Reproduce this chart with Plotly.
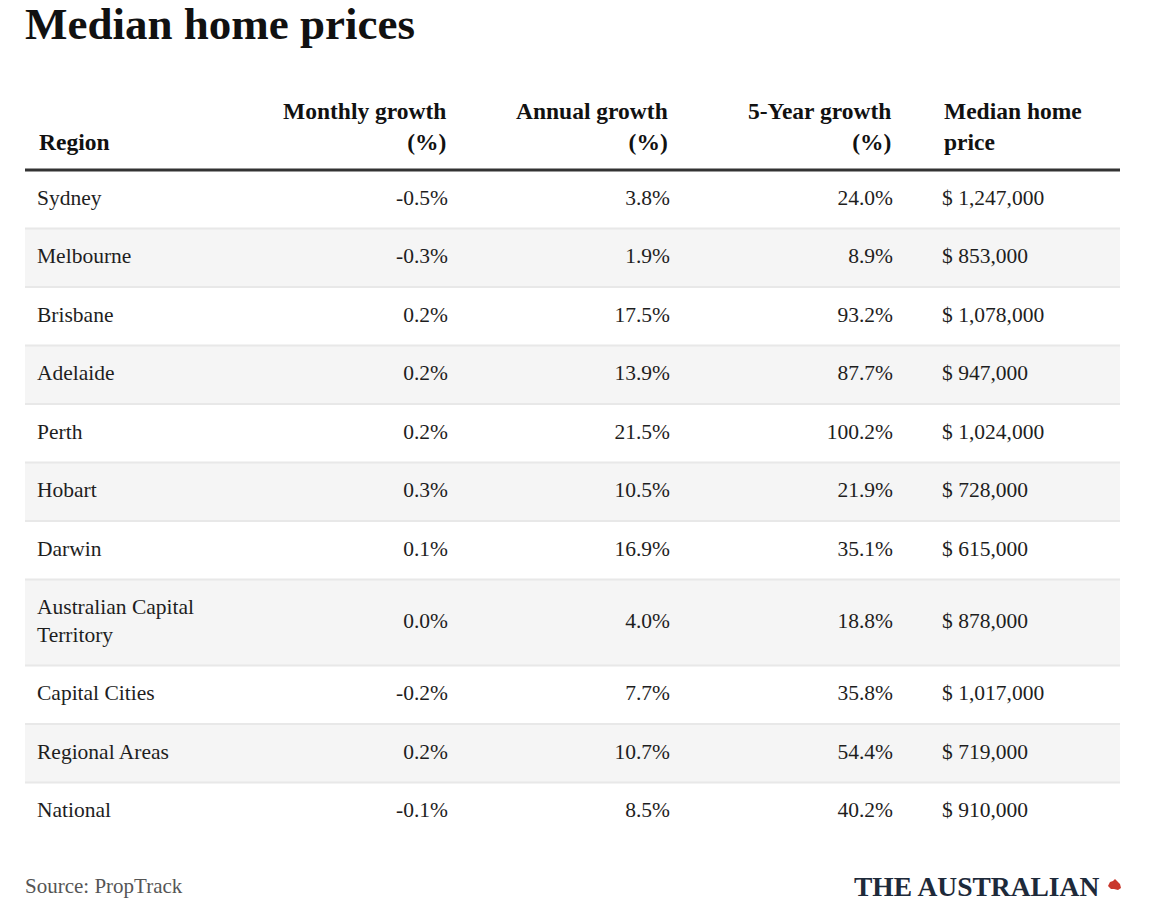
import textwrap
import plotly.graph_objects as go

# ---- data ----
regions = ["Sydney", "Melbourne", "Brisbane", "Adelaide", "Perth", "Hobart",
           "Darwin", "Australian Capital Territory", "Capital Cities",
           "Regional Areas", "National"]
monthly_growth = [-0.5, -0.3, 0.2, 0.2, 0.2, 0.3, 0.1, 0.0, -0.2, 0.2, -0.1]
annual_growth = [3.8, 1.9, 17.5, 13.9, 21.5, 10.5, 16.9, 4.0, 7.7, 10.7, 8.5]
five_year_growth = [24.0, 8.9, 93.2, 87.7, 100.2, 21.9, 35.1, 18.8, 35.8, 54.4, 40.2]
median_price = [1247000, 853000, 1078000, 947000, 1024000, 728000, 615000,
                878000, 1017000, 719000, 910000]
headers = ["Region", "Monthly growth<br>(%)", "Annual growth<br>(%)",
           "5-Year growth<br>(%)", "Median home<br>price"]
title = "Median home prices"
source = "Source: PropTrack"
brand = "THE AUSTRALIAN"

# ---- style ----
W, H = 1167, 903
FONT = "Liberation Serif, Times New Roman, serif"
TXT = "#1e1e1e"
LEFT, RIGHT = 25, 1120
TABLE_TOP = 170
BASE_ROW = 58.5
EXTRA_LINE = 27.5
col_x = [37, 448, 670, 893, 942]
col_pos = ["middle right", "middle left", "middle left", "middle left", "middle right"]

labels = ["<br>".join(textwrap.wrap(r, 20)) for r in regions]
heights = [BASE_ROW + EXTRA_LINE * (l.count("<br>")) for l in labels]
tops = []
acc = TABLE_TOP
for h in heights:
    tops.append(acc)
    acc += h
centers = [t + h / 2 for t, h in zip(tops, heights)]

def pct(v):
    return f"{v:.1f}%"

def price(v):
    return f"$ {v:,.0f}"

columns = [labels,
           [pct(v) for v in monthly_growth],
           [pct(v) for v in annual_growth],
           [pct(v) for v in five_year_growth],
           [price(v) for v in median_price]]

fig = go.Figure()

for x, pos, texts in zip(col_x, col_pos, columns):
    fig.add_trace(go.Scatter(
        x=[x] * len(texts), y=centers, text=texts, mode="text",
        textposition=pos, textfont=dict(family=FONT, size=21.5, color=TXT),
        hoverinfo="skip", showlegend=False))

shapes = []
for i, (t, h) in enumerate(zip(tops, heights)):
    if i % 2 == 1:
        shapes.append(dict(type="rect", x0=LEFT, x1=RIGHT, y0=t, y1=t + h,
                           fillcolor="#f5f5f5", line_width=0, layer="below"))
    if i > 0:
        shapes.append(dict(type="line", x0=LEFT, x1=RIGHT, y0=t, y1=t,
                           line=dict(color="#e8e8e8", width=2), layer="below"))
shapes.append(dict(type="line", x0=LEFT, x1=RIGHT, y0=TABLE_TOP, y1=TABLE_TOP,
                   line=dict(color="#333333", width=3)))
# small red map mark next to the brand
shapes.append(dict(type="path",
                   path="M 1108 886 L 1110 882 L 1113 881 L 1115 879 L 1117 881 "
                        "L 1120 884 L 1121 888 L 1118 890 L 1114 889 L 1111 889 Z",
                   fillcolor="#c9372c", line_width=0))

annotations = []
header_anchor = ["left", "right", "right", "right", "left"]
for x, txt, anc in zip(col_x, headers, header_anchor):
    annotations.append(dict(x=x, y=157, text=f"<b>{txt}</b>", showarrow=False,
                            xanchor=anc, yanchor="bottom", align=anc,
                            font=dict(family=FONT, size=23.5, color="#111111")))
annotations.append(dict(x=LEFT - 2, y=24, text=f"<b>{title}</b>", showarrow=False,
                        xanchor="left", yanchor="middle",
                        font=dict(family=FONT, size=45, color="#111111")))
annotations.append(dict(x=LEFT - 2, y=886, text=source, showarrow=False,
                        xanchor="left", yanchor="middle",
                        font=dict(family=FONT, size=21, color="#555555")))
annotations.append(dict(x=1101, y=886, text=f"<b>{brand}</b>", showarrow=False,
                        xanchor="right", yanchor="middle",
                        font=dict(family=FONT, size=27.5, color="#1e2a3a")))

fig.update_layout(
    width=W, height=H, margin=dict(l=0, r=0, t=0, b=0),
    paper_bgcolor="white", plot_bgcolor="white",
    xaxis=dict(range=[0, W], visible=False, fixedrange=True),
    yaxis=dict(range=[H, 0], visible=False, fixedrange=True),
    shapes=shapes, annotations=annotations,
)

fig.write_html(
    "out.html",
    config={"displayModeBar": False},
    post_script="document.body.style.margin='0px';document.body.style.overflow='hidden';",
)
